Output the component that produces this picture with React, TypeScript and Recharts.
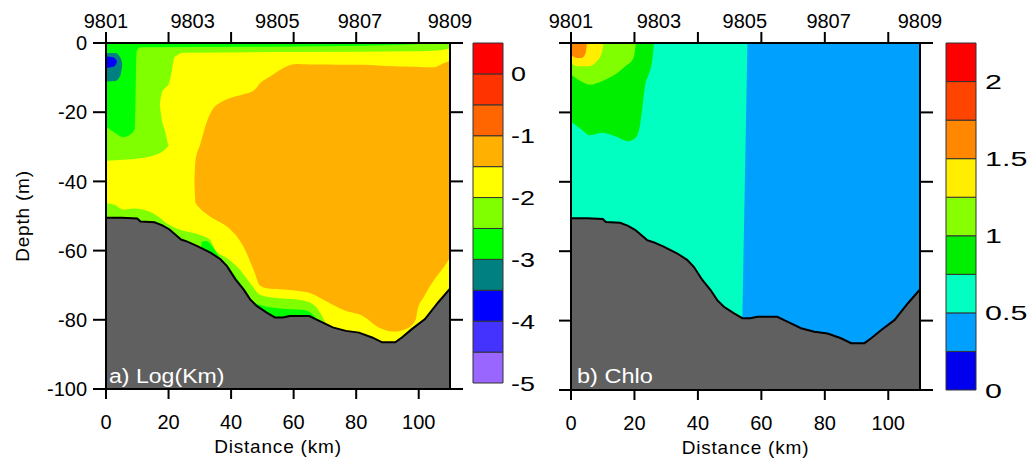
import React from 'react'
import { ComposedChart, Area, Line, XAxis, YAxis, ReferenceArea } from 'recharts'

const FONT = '"Liberation Sans", Arial, Helvetica, sans-serif'

// axes
const distTicks = [0, 20, 40, 60, 80, 100]
const depthTicks = [0, -20, -40, -60, -80, -100]
const stationKm = [0, 27.7, 54.8, 81.2, 110]
const stationNames = ['9801', '9803', '9805', '9807', '9809']

// seafloor profile [km, depth]
const seafloor = [
  [0, -50.5], [5, -50.5], [10, -50.7], [11, -51.6], [15.5, -51.8], [18, -52.7],
  [20.3, -53.9], [24, -56.8], [26, -57.4], [29.2, -58.7], [33.4, -60.6], [36.6, -62.5],
  [38.7, -64.5], [41.4, -68.3], [44, -71.2], [46.1, -74.1], [48.2, -76], [51.4, -77.9],
  [54, -79.3], [56.5, -79.3], [58.8, -78.9], [65, -78.9], [68.2, -80.3], [72.5, -82.2],
  [76.7, -83.2], [80.9, -83.7], [85.1, -85.1], [88.3, -86.5], [92.5, -86.5], [94.6, -85.1],
  [97.8, -82.7], [102, -79.8], [106.2, -75], [110, -71],
]

// a) Log(Km) filled regions, [km, lower depth, upper depth], painted in order
const kmWater = [[0, -100, 0], [110, -100, 0]]
const kmYellowGreen = [
  [0, -34, 0], [6.6, -33.7, 0], [14.1, -32.8, 0], [18.9, -30.8, 0], [20, -29.4, 0],
  [21.1, -8.2, 0], [22.1, -3.9, 0], [25, -2.8, 0], [60, -2.6, 0], [100, -2.4, 0],
  [106, -2.2, 0], [110, -1.5, 0],
]
const kmYellowNotch = [
  [17.2, -17.9, -17.7], [17.8, -22, -14.5], [18.9, -25.5, -13], [20, -29.4, -12],
  [21.1, -30, -8], [22.1, -31, -3.9],
]
const kmGreen = [
  [0, -24.1, 0], [2.9, -26, 0], [5.5, -27.2, 0], [7.7, -26.5, 0], [9.3, -24.6, 0],
  [9.8, -2.4, 0], [11, -1.2, 0], [60, -1, 0], [95, -0.5, 0], [105, 0, 0],
]
const kmTeal = [[0, -11.1, -2.9], [2.9, -11, -2.9], [4.5, -9.6, -4.1], [5.1, -7, -5.6], [5.2, -6.4, -6.2]]
const kmBlue = [[0, -7.2, -3.9], [2.3, -6.9, -4.1], [3.1, -6.3, -4.7], [3.5, -5.5, -5.2]]
const kmBottomYellowGreen = [
  [0, -100, -46.3], [2.9, -100, -46.8], [5.5, -100, -48.1], [8.8, -100, -47.8],
  [14.1, -100, -48.8], [16.8, -100, -50.2], [19.4, -100, -52.1], [23.7, -100, -54],
  [30.1, -100, -55.5], [33.3, -100, -56.9], [34.9, -100, -59.8], [38.7, -100, -62.2],
  [42.9, -100, -65.6], [46.2, -100, -69.5], [49.4, -100, -72.8], [55.8, -100, -73.8],
  [62.2, -100, -74.3], [66.5, -100, -75.7], [68.6, -100, -78.1], [69.7, -100, -80], [71, -100, -82],
]
const kmBottomGreen = [
  [30.5, -100, -57.5], [32, -100, -57.2], [34, -100, -58.8], [36, -100, -61.5],
  [38.7, -100, -64.2], [42, -100, -68.2], [45, -100, -72.3], [47, -100, -74.8],
  [49.4, -100, -75.7], [55.8, -100, -76.7], [63.2, -100, -77.2], [66.3, -100, -78.6],
  [67.5, -100, -80], [68.5, -100, -81],
]
const kmOrange = [
  [28.3, -41, -39], [28.6, -46, -34], [30.1, -47.8, -29.4], [32.3, -49.5, -22.6],
  [34.4, -50.8, -18.8], [36.5, -51.8, -17.3], [39.7, -53.8, -15.9], [44, -58.9, -14.8],
  [47.2, -65.6, -13.8], [49.4, -70.2, -11.5], [52.6, -71, -9.6], [57.9, -71.3, -6.7],
  [61.1, -71.6, -6.1], [65.4, -72.3, -6.2], [70.7, -74.8, -6.2], [76, -77.2, -6.3],
  [82.5, -79.1, -6.3], [86.8, -82, -6.5], [92.1, -83.4, -6.7], [96.3, -82.5, -6.8],
  [99, -80, -6.9], [99.6, -77.2, -6.9], [101.7, -73.3, -7], [104.9, -68.5, -7],
  [108.1, -64.7, -5.8], [110, -62, -5.1],
]

// b) Chlo filled regions
const chWater = [[0, -100, 0], [110, -100, 0]]
const chAzure = [[54, -80, -79.5], [55.6, -100, 0], [110, -100, 0]]
const chGreen = [
  [0, -22.6, 0], [3.4, -25, 0], [6, -26.6, 0], [9.7, -25.9, 0], [13.9, -26.9, 0],
  [18.1, -28.3, 0], [20.3, -27.4, 0], [21.8, -23.5, 0], [22.6, -17.8, 0], [23.4, -12, 0],
  [24.5, -9.1, 0], [25.7, -4.3, 0], [26.1, -0.5, 0],
]
const chYellowGreen = [
  [0, -9.1, 0], [2.3, -10.6, 0], [6, -12, 0], [9.7, -11, 0], [13.9, -9.1, 0],
  [17.1, -6.7, 0], [19.7, -4.3, 0], [20.4, -0.5, 0],
]
const chYellow = [[0, -5.8, 0], [2.3, -6.7, 0], [5.5, -6.7, 0], [8.1, -5.3, 0], [9.7, -2.9, 0], [10.2, -0.3, 0]]
const chOrange = [[0, -3.4, 0], [1.8, -4.3, 0], [3.4, -4.3, 0], [4.6, -2.9, 0], [5, -0.3, 0]]

// colour bars
const kmBarLevels = [-5, -4.5, -4, -3.5, -3, -2.5, -2, -1.5, -1, -0.5, 0, 0.5]
const kmBarColors = ['#9966FF', '#4433FF', '#0000FF', '#008080', '#00FF00', '#80FF00', '#FFFF00', '#FFB000', '#FF6600', '#FF3300', '#FF0000']
const kmBarTicks = [-5, -4, -3, -2, -1, 0]
const chBarLevels = [0, 0.25, 0.5, 0.75, 1, 1.25, 1.5, 1.75, 2, 2.25]
const chBarColors = ['#0000EE', '#00A0FF', '#00FFC0', '#00EE00', '#88FF00', '#FFEE00', '#FF8800', '#FF4400', '#FF0000']
const chBarTicks = [0, 0.5, 1, 1.5, 2]

const kmLayers = [
  { rows: kmWater, fill: '#FFFF00' },
  { rows: kmYellowGreen, fill: '#80FF00' },
  { rows: kmYellowNotch, fill: '#FFFF00' },
  { rows: kmGreen, fill: '#00FF00' },
  { rows: kmTeal, fill: '#008080' },
  { rows: kmBlue, fill: '#0000FF' },
  { rows: kmBottomYellowGreen, fill: '#80FF00' },
  { rows: kmBottomGreen, fill: '#00FF00' },
  { rows: kmOrange, fill: '#FFB000' },
]
const chLayers = [
  { rows: chWater, fill: '#00FFC0' },
  { rows: chAzure, fill: '#00A0FF', linear: true },
  { rows: chGreen, fill: '#00EE00' },
  { rows: chYellowGreen, fill: '#80FF00' },
  { rows: chYellow, fill: '#FFEE00' },
  { rows: chOrange, fill: '#FF8800' },
]

function toRange(rows: number[][]) {
  return rows.map(([x, lo, hi]) => ({ x, r: [lo, hi] }))
}

// short upward marks on the top frame, every 20 km
function TopTick(props: any) {
  const { x, y, payload } = props
  return (
    <g>
      <line x1={x} x2={x} y1={y} y2={y - 11} stroke="#000" strokeWidth={2} />
      <text x={x} y={y} fontSize={1} fill="none">{String(payload.value)}</text>
    </g>
  )
}

function StationTick(props: any) {
  const { x, y, payload } = props
  const i = stationKm.indexOf(payload.value)
  return (
    <text x={x} y={y - 1} textAnchor="middle" fontSize={20} fontFamily={FONT} fill="#000">{stationNames[i]}</text>
  )
}

interface SectionProps {
  width: number
  marginRight: number
  marginBottom: number
  leftWidth: number
  layers: { rows: number[][]; fill: string; linear?: boolean }[]
  depthLabels: boolean
}

function Section({ width, marginRight, marginBottom, leftWidth, layers, depthLabels }: SectionProps) {
  const frame = toRange(layers[0].rows)
  return (
    <ComposedChart width={width} height={459} margin={{ top: 0, right: marginRight, bottom: marginBottom, left: 0 }}>
      {layers.map((l, i) => (
        <Area
          key={i} data={toRange(l.rows)} dataKey="r" type={l.linear ? 'linear' : 'monotone'}
          fill={l.fill} fillOpacity={1} stroke="none" isAnimationActive={false} activeDot={false}
        />
      ))}
      <Area
        data={seafloor.map(([x, d]) => ({ x, d }))} dataKey="d" baseValue={-100} type="linear"
        fill="#606060" fillOpacity={1} stroke="#000" strokeWidth={2} isAnimationActive={false} activeDot={false}
      />
      {/* empty series tied to the top and right axes */}
      <Area xAxisId="zst" yAxisId="r" data={frame} dataKey="r" fill="none" stroke="none" isAnimationActive={false} activeDot={false} />
      <Area xAxisId="atk" yAxisId="r" data={frame} dataKey="r" fill="none" stroke="none" isAnimationActive={false} activeDot={false} />
      <XAxis
        dataKey="x" type="number" domain={[0, 110]} ticks={distTicks}
        height={66} tickSize={10} tickMargin={16} stroke="#000" strokeWidth={2}
        tick={{ fill: '#000', fontSize: 20, fontFamily: FONT }}
        label={{ value: 'Distance (km)', position: 'insideBottom', offset: 2, style: { fill: '#000', fontSize: 19, fontFamily: FONT, letterSpacing: 0.8 } }}
      />
      <XAxis
        xAxisId="zst" orientation="top" dataKey="x" type="number" domain={[0, 110]}
        ticks={stationKm} interval={0} height={29} tickSize={0} tickMargin={0} axisLine={false} tickLine={false}
        tick={(p: any) => <StationTick {...p} />}
      />
      <XAxis
        xAxisId="atk" orientation="top" dataKey="x" type="number" domain={[0, 110]}
        ticks={distTicks} height={14} tickSize={0} tickMargin={0} stroke="#000" strokeWidth={2} tickLine={false}
        tick={(p: any) => <TopTick {...p} />}
      />
      <YAxis
        type="number" domain={[-100, 0]} ticks={depthTicks} width={leftWidth}
        tickSize={depthLabels ? 13 : 12} tickMargin={6} stroke="#000" strokeWidth={2}
        tick={{ fill: depthLabels ? '#000' : 'none', fontSize: 20, fontFamily: FONT }}
        label={depthLabels ? { value: 'Depth (m)', angle: -90, position: 'insideLeft', offset: 22, style: { fill: '#000', fontSize: 19, fontFamily: FONT, letterSpacing: 0.8, textAnchor: 'middle' } } : undefined}
      />
      <YAxis
        yAxisId="r" orientation="right" type="number" domain={[-100, 0]} ticks={depthTicks}
        width={14} tickSize={13} stroke="#000" strokeWidth={2} tick={{ fill: 'none', fontSize: 1 }}
      />
    </ComposedChart>
  )
}

function BarTick(props: any) {
  const { x, y, payload, sx } = props
  return (
    <text transform={`translate(${x},${y}) scale(${sx},1)`} dy="0.36em" fontSize={21} fontFamily={FONT} fill="#000" textAnchor="start">
      {payload.value}
    </text>
  )
}

interface BarProps {
  width: number
  marginLeft: number
  marginBottom: number
  axisWidth: number
  gap: number
  sx: number
  levels: number[]
  colors: string[]
  ticks: number[]
}

function ColorBar({ width, marginLeft, marginBottom, axisWidth, gap, sx, levels, colors, ticks }: BarProps) {
  const ends = [{ x: 0, v: levels[0] }, { x: 1, v: levels[levels.length - 1] }]
  return (
    <ComposedChart width={width} height={459} data={ends} margin={{ top: 43, right: 0, bottom: marginBottom, left: marginLeft }}>
      <XAxis dataKey="x" type="number" domain={[0, 1]} hide />
      <YAxis
        orientation="right" type="number" domain={[levels[0], levels[levels.length - 1]]} ticks={ticks} interval={0}
        width={axisWidth} tickSize={0} tickMargin={gap} axisLine={false} tickLine={false}
        tick={(p: any) => <BarTick {...p} sx={sx} />}
      />
      <Line dataKey="v" stroke="none" dot={false} activeDot={false} isAnimationActive={false} />
      {colors.map((c, i) => (
        <ReferenceArea key={i} y1={levels[i]} y2={levels[i + 1]} fill={c} fillOpacity={1} stroke="#333" strokeWidth={1} ifOverflow="visible" />
      ))}
    </ComposedChart>
  )
}

export default function App() {
  const box = (left: number): React.CSSProperties => ({ position: 'absolute', left, top: 0 })
  const panelLabel = { fill: '#fff', fontSize: 21, fontFamily: FONT }
  return (
    <div style={{ position: 'absolute', left: 0, top: 0, width: 1030, height: 459, background: '#fff', overflow: 'hidden' }}>
      <div style={box(0)}>
        <Section width={520} marginRight={56} marginBottom={4} leftWidth={106} layers={kmLayers} depthLabels />
      </div>
      <div style={box(460)}>
        <ColorBar width={100} marginLeft={13} marginBottom={76} axisWidth={57} gap={8} sx={1.28} levels={kmBarLevels} colors={kmBarColors} ticks={kmBarTicks} />
      </div>
      <div style={box(520)}>
        <Section width={445} marginRight={31} marginBottom={3} leftWidth={51} layers={chLayers} depthLabels={false} />
      </div>
      <div style={box(934)}>
        <ColorBar width={96} marginLeft={12} marginBottom={69} axisWidth={54} gap={9} sx={1.45} levels={chBarLevels} colors={chBarColors} ticks={chBarTicks} />
      </div>
      <svg width={1030} height={459} style={{ position: 'absolute', left: 0, top: 0, pointerEvents: 'none' }}>
        <text transform="translate(109,383) scale(1.1,1)" style={panelLabel}>a) Log(Km)</text>
        <text transform="translate(577,383) scale(1.12,1)" style={panelLabel}>b) Chlo</text>
      </svg>
    </div>
  )
}
